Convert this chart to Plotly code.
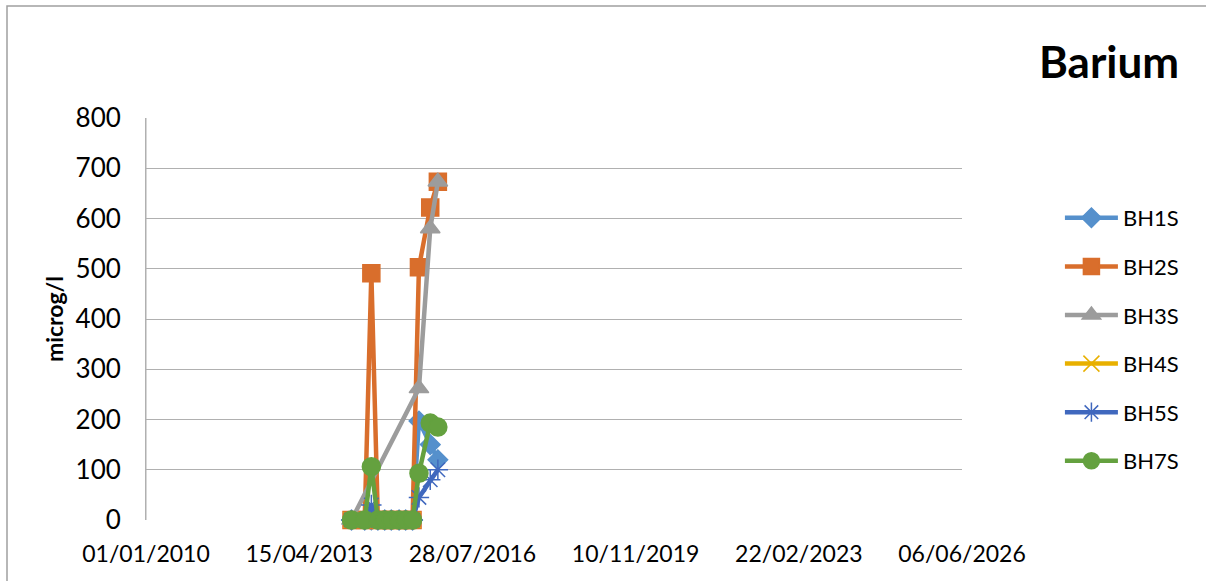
import plotly.graph_objects as go

dates = ["2014-02-20", "2014-05-28", "2014-07-16", "2014-09-02", "2014-10-22", "2014-12-10",
         "2015-02-05", "2015-03-25", "2015-05-15", "2015-07-01", "2015-09-22", "2015-11-17"]

bh1s = [0, 0, 0, 0, 0, 0, 0, 0, 0, 197, 150, 120]
bh2s = [0, 0, 491, 0, 0, 0, 0, 0, 0, 503, 622, 673]
bh3s = [0, None, None, None, None, None, None, None, None, 262, 580, 673]
bh4s = [0, 0, 0, 0, 0, 0, 0, 0, 0, None, None, None]
bh5s = [0, 0, 30, 0, 0, 0, 0, 0, 0, 45, 80, 100]
bh7s = [0, 0, 106, 0, 0, 0, 0, 0, 0, 93, 193, 185]

tick_vals = ["2010-01-01", "2013-04-15", "2016-07-28", "2019-11-10", "2023-02-22", "2026-06-06"]
tick_text = ["01/01/2010", "15/04/2013", "28/07/2016", "10/11/2019", "22/02/2023", "06/06/2026"]

FONT = "Lato, sans-serif"

series = [
    ("BH1S", bh1s, "#5590CC", "diamond", 15),
    ("BH2S", bh2s, "#D96E2C", "square", 17),
    ("BH3S", bh3s, "#9C9C9C", "triangle-up", 17),
    ("BH4S", bh4s, "#E8B000", "x-thin-open", 16),
    ("BH5S", bh5s, "#4068BE", "asterisk-open", 17),
    ("BH7S", bh7s, "#64A13F", "circle", 18),
]

fig = go.Figure()
for i, (name, vals, col, sym, sz) in enumerate(series):
    fig.add_trace(go.Scatter(
        x=dates, y=vals, name=name, mode="lines+markers", connectgaps=True,
        legendgroup=name, cliponaxis=False,
        line=dict(color=col, width=4.5),
        marker=dict(symbol=sym, size=sz, color=col, line=dict(color=col, width=1.5)),
    ))

fig.update_layout(
    width=1206, height=581,
    margin=dict(l=146, r=244, t=118, b=61),
    paper_bgcolor="white", plot_bgcolor="white",
    font=dict(family=FONT, size=26, color="black"),
    showlegend=True,
    legend=dict(x=1.12, xanchor="left", y=(520 - 197) / 402, yanchor="top",
                font=dict(family=FONT, size=22), tracegroupgap=17, itemwidth=53),
    xaxis=dict(range=["2010-01-01", "2026-06-06"], tickvals=tick_vals, ticktext=tick_text,
               showgrid=False, zeroline=False, showline=False, ticks="",
               tickfont=dict(family=FONT, size=23), ticklabelstandoff=18),
    yaxis=dict(range=[0, 800], dtick=100, showgrid=True, gridcolor="#B0B0B0", gridwidth=1,
               zeroline=False, showline=True, linecolor="#B0B0B0", linewidth=1, ticks="",
               tickfont=dict(family=FONT, size=26), ticklabelstandoff=19,
               title=dict(text="<b>microg/l</b>", font=dict(family=FONT, size=23), standoff=5)),
    annotations=[dict(text="<b>Barium</b>", xref="paper", yref="paper",
                      x=(1181 - 146) / 816, y=(520 - 61) / 402, xanchor="right", yanchor="middle",
                      showarrow=False, font=dict(family=FONT, size=44, color="black"))],
    shapes=[
        dict(type="line", xref="paper", yref="paper", x0=0, x1=0, y0=0, y1=1,
             line=dict(color="#B0B0B0", width=1)),
        dict(type="rect", xref="paper", yref="paper",
             x0=(7 - 146) / 816, x1=1.6, y0=-0.3, y1=(520 - 6) / 402,
             line=dict(color="#A0A0A0", width=1.5), fillcolor="rgba(0,0,0,0)", layer="below"),
    ],
)

fig.write_html("out.html", config={"displayModeBar": False},
               post_script="document.body.style.margin='0';document.body.style.overflow='hidden';")
